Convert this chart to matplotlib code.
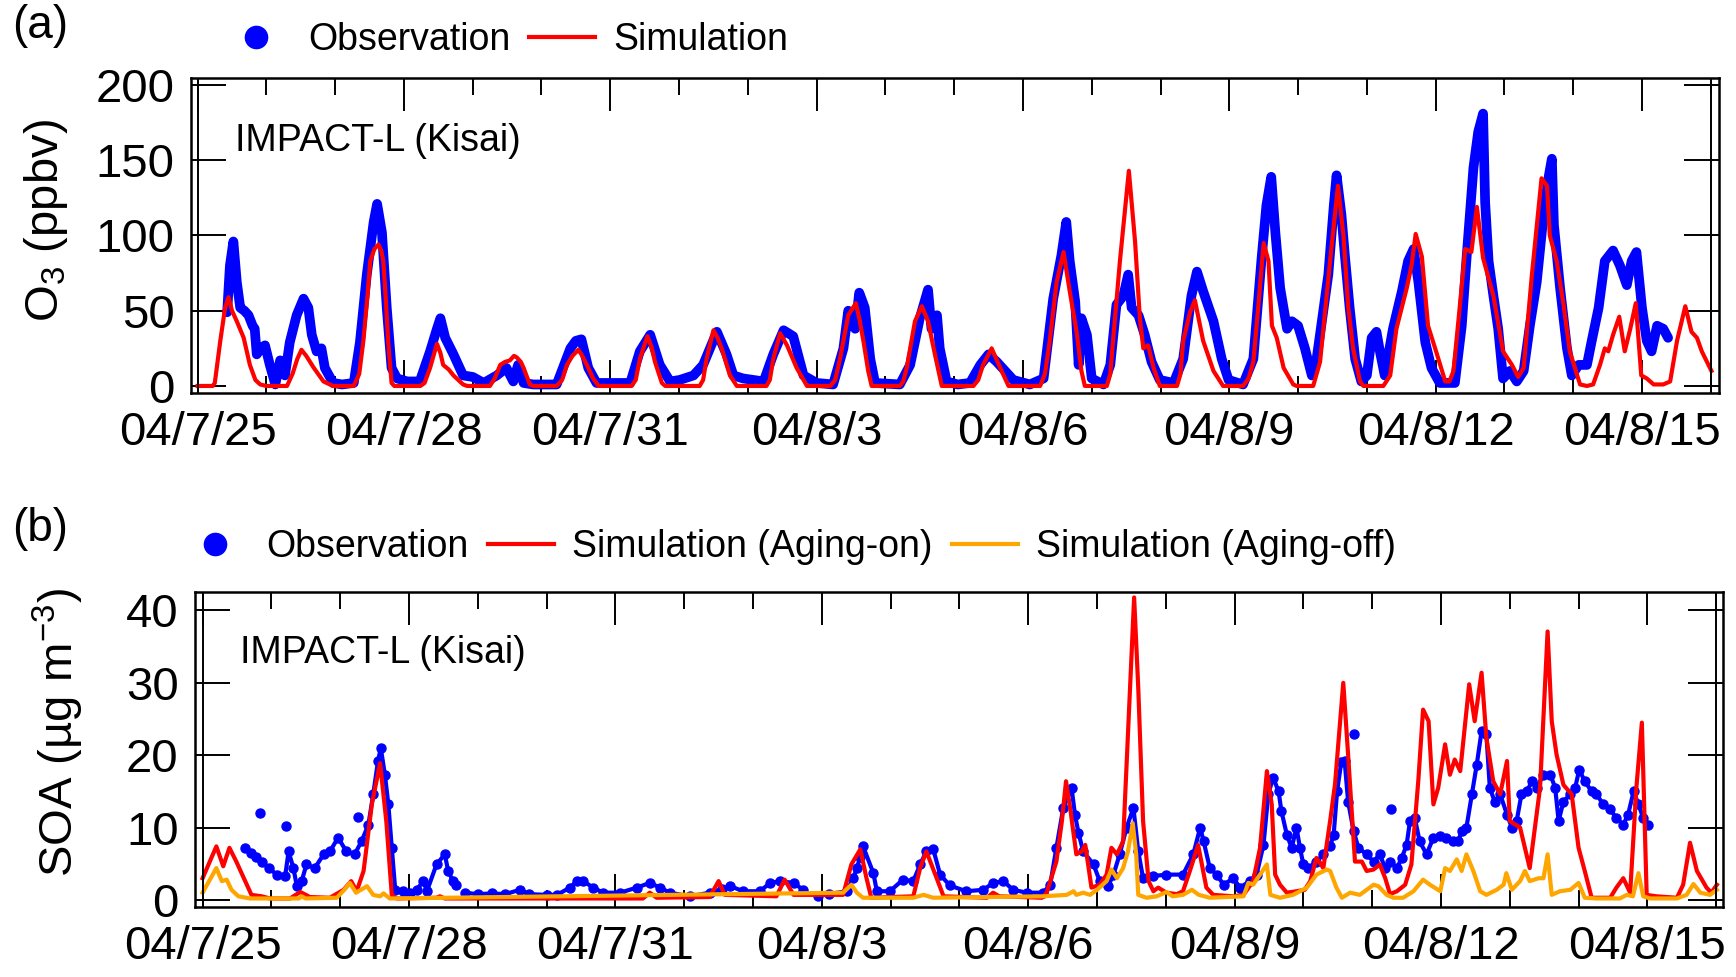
import matplotlib
matplotlib.use("Agg")
import numpy as np
import matplotlib.pyplot as plt
from matplotlib.lines import Line2D

plt.rcParams['font.family'] = ['Liberation Sans', 'DejaVu Sans']
plt.rcParams['mathtext.fontset'] = 'custom'
plt.rcParams['mathtext.rm'] = 'Liberation Sans'
plt.rcParams['mathtext.it'] = 'Liberation Sans:italic'
plt.rcParams['mathtext.default'] = 'regular'

# time is in days since 2004-07-25 00:00
date_ticks = [0, 3, 6, 9, 12, 15, 18, 21]
date_labels = ["04/7/25", "04/7/28", "04/7/31", "04/8/3",
               "04/8/6", "04/8/9", "04/8/12", "04/8/15"]

# (a) O3 observation (ppbv)
o3_obs_t = [0.43, 0.47, 0.52, 0.57, 0.62, 0.68, 0.74, 0.80, 0.83, 0.86, 0.92, 0.98,
            1.05, 1.13, 1.20, 1.27, 1.34, 1.44, 1.54, 1.61, 1.66, 1.73, 1.80, 1.85,
            1.97, 2.10, 2.27, 2.36, 2.46, 2.56, 2.61, 2.68, 2.75, 2.82, 2.90, 3.05,
            3.23, 3.38, 3.48, 3.53, 3.60, 3.72, 3.86, 4.00, 4.16, 4.35, 4.49, 4.59,
            4.66, 4.74, 4.88, 5.05, 5.22, 5.42, 5.50, 5.58, 5.68, 5.80, 6.05, 6.29,
            6.43, 6.58, 6.72, 6.87, 7.01, 7.21, 7.35, 7.55, 7.69, 7.79, 7.93, 8.23,
            8.37, 8.52, 8.66, 8.81, 9.00, 9.24, 9.39, 9.46, 9.56, 9.62, 9.70, 9.78,
            9.85, 10.21, 10.36, 10.50, 10.62, 10.67, 10.75, 10.79, 10.89, 11.05, 11.23, 11.38,
            11.50, 11.62, 11.74, 11.86, 12.10, 12.30, 12.44, 12.56, 12.63, 12.68, 12.76, 12.81,
            12.85, 12.93, 13.00, 13.17, 13.27, 13.36, 13.46, 13.53, 13.58, 13.68, 13.77, 13.87,
            13.99, 14.19, 14.33, 14.45, 14.53, 14.62, 14.77, 14.89, 14.99, 15.20, 15.35, 15.47,
            15.54, 15.61, 15.67, 15.74, 15.84, 15.91, 16.00, 16.10, 16.20, 16.27, 16.44, 16.52,
            16.56, 16.63, 16.68, 16.75, 16.83, 16.92, 17.00, 17.07, 17.14, 17.19, 17.26, 17.38,
            17.51, 17.60, 17.68, 17.75, 17.85, 17.94, 18.06, 18.28, 18.38, 18.45, 18.55, 18.62,
            18.69, 18.72, 18.77, 18.84, 18.91, 18.98, 19.08, 19.18, 19.28, 19.37, 19.47, 19.57,
            19.64, 19.69, 19.72, 19.81, 19.91, 19.98, 20.08, 20.20, 20.27, 20.37, 20.46, 20.58,
            20.68, 20.78, 20.85, 20.92, 21.00, 21.07, 21.14, 21.22, 21.31, 21.38]
o3_obs_v = [49, 80, 96, 69, 52, 50, 47, 40, 38, 21, 25, 27,
            14, 1, 17, 7, 29, 47, 58, 52, 34, 23, 25, 12,
            2, 1, 2, 29, 74, 109, 121, 102, 52, 12, 5, 3,
            3, 23, 38, 45, 32, 21, 7, 6, 2, 7, 12, 3,
            14, 2, 1, 1, 1, 25, 30, 31, 12, 2, 2, 2,
            23, 34, 14, 3, 4, 7, 14, 36, 21, 7, 5, 3,
            21, 37, 33, 7, 2, 1, 25, 50, 38, 62, 52, 18,
            2, 1, 14, 45, 64, 38, 47, 25, 3, 1, 2, 14,
            21, 16, 10, 4, 1, 5, 58, 87, 109, 83, 56, 14,
            45, 34, 5, 1, 14, 54, 60, 74, 52, 47, 34, 16,
            4, 2, 18, 60, 76, 63, 43, 18, 4, 1, 18, 85,
            120, 139, 102, 65, 38, 43, 40, 25, 7, 18, 74, 120,
            140, 114, 87, 52, 18, 3, 7, 32, 36, 23, 7, 38,
            63, 83, 91, 69, 29, 12, 2, 2, 40, 85, 145, 169,
            181, 122, 83, 60, 38, 5, 10, 3, 10, 40, 69, 114,
            138, 151, 107, 65, 25, 7, 14, 14, 30, 52, 83, 90,
            80, 67, 83, 89, 52, 30, 23, 40, 38, 32]

# (a) O3 simulation (ppbv)
o3_sim_t = [0.00, 0.22, 0.25, 0.33, 0.40, 0.45, 0.50, 0.57, 0.67, 0.76, 0.84, 0.91,
            1.00, 1.30, 1.38, 1.45, 1.51, 1.58, 1.69, 1.83, 1.97, 2.27, 2.35, 2.41,
            2.47, 2.51, 2.57, 2.63, 2.67, 2.70, 2.74, 2.77, 2.82, 2.86, 3.24, 3.30,
            3.38, 3.48, 3.53, 3.57, 3.65, 3.72, 3.86, 3.92, 4.25, 4.32, 4.40, 4.47,
            4.54, 4.60, 4.64, 4.70, 4.74, 4.83, 4.88, 5.22, 5.30, 5.37, 5.45, 5.535,
            5.58, 5.66, 5.75, 5.83, 6.31, 6.37, 6.43, 6.54, 6.60, 6.65, 6.75, 6.80,
            7.30, 7.35, 7.40, 7.50, 7.56, 7.62, 7.74, 7.84, 8.27, 8.32, 8.37, 8.47,
            8.57, 8.71, 8.86, 9.20, 9.27, 9.34, 9.46, 9.57, 9.62, 9.68, 9.75, 9.80,
            10.21, 10.26, 10.31, 10.43, 10.53, 10.62, 10.72, 10.82, 11.28, 11.35, 11.42, 11.545,
            11.67, 11.79, 12.25, 12.32, 12.39, 12.49, 12.59, 12.68, 12.78, 12.85, 12.90, 13.22,
            13.27, 13.31, 13.41, 13.54, 13.63, 13.70, 13.75, 13.82, 13.90, 13.99, 14.24, 14.29,
            14.33, 14.43, 14.50, 14.62, 14.77, 14.91, 15.20, 15.28, 15.35, 15.42, 15.50, 15.57,
            15.62, 15.69, 15.79, 15.93, 15.98, 16.22, 16.32, 16.47, 16.58, 16.66, 16.73, 16.80,
            16.90, 16.95, 17.24, 17.34, 17.43, 17.58, 17.65, 17.71, 17.80, 17.89, 18.02, 18.14,
            18.20, 18.26, 18.35, 18.43, 18.52, 18.60, 18.69, 18.84, 18.98, 19.11, 19.20, 19.28,
            19.40, 19.54, 19.62, 19.66, 19.76, 19.86, 19.95, 20.10, 20.20, 20.29, 20.39, 20.46,
            20.51, 20.58, 20.67, 20.75, 20.83, 20.91, 20.99, 21.07, 21.17, 21.31, 21.41, 21.51,
            21.63, 21.72, 21.80, 21.87, 22.01]
o3_sim_v = [0, 0, 2, 30, 52, 59, 50, 43, 32, 14, 4, 1,
            0, 0, 8, 18, 24, 20, 12, 3, 0, 0, 8, 30,
            60, 83, 91, 94, 90, 83, 55, 30, 2, 0, 0, 2,
            12, 28, 22, 14, 11, 7, 1, 0, 0, 5, 14, 16,
            17, 20, 19, 16, 12, 1, 0, 0, 4, 14, 20, 24,
            21, 14, 5, 0, 0, 4, 18, 33, 26, 16, 2, 0,
            0, 4, 18, 37, 32, 25, 7, 0, 0, 4, 18, 35,
            27, 12, 0, 0, 4, 18, 47, 55, 45, 30, 10, 0,
            0, 3, 12, 43, 53, 43, 21, 0, 0, 4, 14, 25,
            12, 0, 0, 8, 30, 69, 89, 63, 36, 10, 0, 0,
            8, 30, 83, 143, 96, 45, 25, 27, 12, 0, 0, 8,
            30, 49, 57, 30, 10, 0, 0, 5, 16, 52, 95, 83,
            40, 32, 12, 1, 0, 0, 16, 85, 133, 100, 52, 25,
            3, 0, 0, 7, 38, 65, 80, 101, 86, 40, 21, 3,
            3, 10, 52, 91, 89, 119, 85, 60, 23, 14, 6, 12,
            74, 138, 133, 100, 83, 54, 23, 1, 0, 1, 14, 25,
            23, 34, 46, 23, 38, 55, 7, 5, 1, 1, 3, 30,
            53, 36, 32, 23, 10]

# (b) SOA observation (ug m-3), nan marks a data gap
soa_obs_t = [0.62, 0.70, 0.78, 0.86, 0.96, 1.08, 1.20, 1.25, 1.32, 1.37, 1.44, 1.51,
             1.63, 1.76, 1.85, 1.97, 2.09, 2.21, 2.31, 2.41, 2.48, 2.55, 2.59, 2.65,
             2.70, 2.75, 2.80, 2.92, 3.02, 3.11, 3.21, 3.26, 3.40, 3.52, 3.57, 3.64,
             3.69, 3.75, 3.81, 4.00, 4.20, 4.40, 4.61, 4.75, 5.00, 5.15, 5.34, 5.44,
             5.53, 5.68, 5.82, 6.07, 6.31, 6.50, 6.65, 6.79, 7.08, 7.37, 7.55, 7.67,
             7.86, 8.10, 8.25, 8.39, 8.59, 8.73, 8.84, 8.95, 9.10, 9.36, 9.46, 9.51,
             9.56, 9.60, 9.75, 9.80, 9.99, 10.18, 10.33, 10.43, 10.52, 10.62, 10.72, 10.86,
             11.10, 11.35, 11.49, 11.64, 11.78, 11.98, 12.22, 12.32, 12.41, 12.51, 12.63, 12.68,
             12.73, 12.80, 12.95, 13.04, 13.16, 13.24, 13.33, 13.43, 13.53, 13.60, 13.67, 13.82,
             14.01, 14.25, 14.40, 14.50, 14.55, 14.64, 14.74, 14.84, 14.98, 15.08, 15.22, 15.32,
             15.42, 15.49, 15.56, 15.64, 15.68, 15.76, 15.83, 15.90, 15.95, 16.00, 16.07, 16.19,
             16.29, 16.39, 16.44, 16.49, 16.55, 16.60, 16.65, 16.73, 16.80, 16.92, 17.02, 17.11,
             17.19, 17.26, 17.36, 17.43, 17.50, 17.55, 17.62, 17.69, 17.79, 17.89, 17.99, 18.08,
             18.18, 18.25, 18.30, 18.37, 18.45, 18.52, 18.59, 18.66, 18.71, 18.78, 18.86, 18.96,
             19.03, 19.10, 19.17, 19.25, 19.32, 19.39, 19.49, 19.59, 19.66, 19.71, 19.78, 19.88,
             19.95, 20.01, 20.09, 20.19, 20.26, 20.36, 20.46, 20.55, 20.65, 20.72, 20.80, 20.87,
             20.94, 21.01]
soa_obs_v = [7.2, 6.5, 6.0, 5.3, 4.4, 3.5, 3.3, 6.7, 4.4, 1.9, 2.6, 4.9,
             4.4, 6.3, 6.7, 8.6, 6.7, 6.3, 8.1, 10.4, 14.6, 19.2, 21.0, 17.3,
             13.2, 7.2, 1.4, 1.2, 1.0, 1.4, 2.6, 1.2, 4.9, 6.3, 4.0, 2.6,
             2.1, np.nan, 1.0, 0.8, 0.9, 0.8, 1.4, 0.8, 0.7, 0.7, 1.7, 2.6,
             2.6, 1.7, 1.0, 1.0, 1.7, 2.35, 1.7, 1.0, 0.5, 1.0, 1.5, 1.9,
             1.2, 1.2, 2.35, 2.6, 2.35, 1.4, np.nan, 0.6, 0.8, 1.2, 3.0, 4.4,
             6.0, 7.4, 3.7, 1.2, 1.2, 2.8, 2.6, 4.9, 6.7, 7.0, 3.5, 2.0,
             1.2, 1.4, 2.35, 2.6, 1.4, 1.0, 1.0, 2.1, 7.2, 12.7, 15.5, 11.8,
             9.3, 6.7, 4.9, 2.6, 1.9, 3.5, 6.3, 10.0, 12.7, 6.7, 3.0, 3.3,
             3.5, 3.5, 6.3, 10.0, 8.1, 4.4, 3.5, 2.1, 3.0, 1.7, 2.6, 3.5,
             7.6, 14.6, 16.9, 15.0, 12.3, 9.0, 7.2, 10.0, 7.2, 4.9, 4.4, 5.3,
             6.3, 7.5, 9.0, 15.0, 19.0, 19.2, 13.6, 9.5, 7.2, 6.3, 5.3, 6.3,
             4.4, 5.3, 4.4, 5.8, 7.6, 10.9, 11.3, 8.1, 6.3, 8.6, 8.8, 8.6,
             8.1, 8.1, 9.5, 10.0, 14.6, 18.7, 23.3, 22.9, 15.5, 13.6, 14.6, 11.8,
             10.0, 10.9, 14.6, 15.0, 16.4, 15.5, 17.3, 17.3, 15.5, 10.9, 13.6, 14.6,
             15.5, 18.0, 16.4, 15.0, 14.6, 13.2, 12.5, 11.3, 10.4, 11.8, 15.0, 13.2,
             11.3, 10.4]
# isolated observation points away from the main trace
soa_out_t = [0.84, 1.21, 2.26, 16.73, 17.28]
soa_out_v = [12.0, 10.2, 11.4, 22.9, 12.5]

# (b) SOA simulation, aging on
soa_on_t = [0.00, 0.20, 0.30, 0.39, 0.49, 0.62, 0.71, 0.86, 0.98, 1.27, 1.42, 1.56,
            1.85, 2.05, 2.16, 2.24, 2.34, 2.46, 2.58, 2.67, 2.75, 2.82, 3.40, 3.45,
            3.52, 6.40, 6.50, 6.60, 7.37, 7.50, 7.59, 8.34, 8.46, 8.59, 9.31, 9.43,
            9.56, 9.65, 9.72, 10.33, 10.43, 10.52, 10.65, 10.77, 11.40, 11.49, 11.58, 12.20,
            12.27, 12.41, 12.49, 12.55, 12.61, 12.70, 12.78, 12.83, 12.92, 13.04, 13.14, 13.21,
            13.29, 13.38, 13.48, 13.54, 13.60, 13.67, 13.75, 13.82, 13.89, 14.01, 14.16, 14.25,
            14.35, 14.47, 14.59, 14.69, 14.98, 15.13, 15.27, 15.37, 15.47, 15.54, 15.59, 15.66,
            15.76, 15.90, 16.02, 16.10, 16.19, 16.29, 16.39, 16.46, 16.58, 16.65, 16.75, 16.85,
            16.92, 17.02, 17.11, 17.19, 17.26, 17.36, 17.48, 17.57, 17.67, 17.74, 17.82, 17.89,
            17.96, 18.06, 18.13, 18.20, 18.28, 18.41, 18.49, 18.59, 18.66, 18.76, 18.86, 18.96,
            19.00, 19.15, 19.29, 19.44, 19.55, 19.61, 19.68, 19.78, 19.90, 20.00, 20.09, 20.19,
            20.46, 20.55, 20.65, 20.75, 20.84, 20.92, 20.99, 21.13, 21.43, 21.52, 21.62, 21.72,
            21.86, 21.93, 22.01]
soa_on_v = [3.0, 7.4, 4.65, 7.2, 5.3, 2.6, 0.7, 0.5, 0.2, 0.2, 1.1, 0.4,
            0.3, 1.4, 2.6, 1.2, 4.0, 13.2, 18.9, 10.9, 0.7, 0.2, 0.3, 0.5,
            0.2, 0.2, 1.0, 0.3, 0.4, 2.6, 0.7, 0.5, 2.8, 0.7, 0.7, 4.9,
            7.0, 3.0, 0.3, 0.5, 4.4, 6.7, 3.5, 0.5, 0.3, 1.0, 0.5, 0.3,
            1.0, 5.3, 10.9, 16.4, 12.7, 6.3, 6.7, 7.6, 1.7, 2.1, 3.5, 7.2,
            6.3, 8.1, 29.3, 41.8, 29.3, 10.9, 2.6, 1.2, 1.7, 1.0, 0.8, 1.2,
            4.0, 7.6, 1.7, 0.7, 0.5, 0.7, 2.6, 7.2, 17.8, 13.2, 3.5, 2.1,
            1.0, 1.2, 1.4, 2.6, 5.8, 4.4, 11.0, 16.0, 30.0, 20.1, 5.3, 5.3,
            4.0, 4.2, 4.9, 3.0, 0.8, 1.2, 2.1, 4.9, 16.4, 26.3, 24.7, 13.2,
            15.5, 21.5, 17.3, 19.4, 17.8, 29.8, 24.7, 31.4, 22.4, 16.4, 14.6, 19.2,
            10.9, 10.0, 4.4, 15.5, 37.1, 24.7, 20.1, 15.9, 14.6, 7.2, 4.0, 0.3,
            0.3, 1.7, 3.0, 1.0, 15.5, 24.5, 0.7, 0.5, 0.3, 2.1, 7.9, 4.0,
            1.7, 1.0, 2.1]

# (b) SOA simulation, aging off
soa_off_t = [0.00, 0.20, 0.28, 0.35, 0.42, 0.52, 0.69, 1.40, 1.44, 1.50, 1.95, 2.06,
             2.14, 2.23, 2.39, 2.48, 2.58, 2.63, 2.72, 9.31, 9.43, 9.51, 9.60, 10.33,
             10.48, 10.62, 12.22, 12.56, 12.66, 12.70, 12.80, 12.90, 13.00, 13.14, 13.21, 13.29,
             13.38, 13.45, 13.52, 13.57, 13.60, 13.72, 13.87, 14.01, 14.10, 14.25, 14.38, 14.48,
             14.64, 15.13, 15.20, 15.27, 15.37, 15.47, 15.52, 15.66, 15.85, 16.05, 16.19, 16.34,
             16.39, 16.48, 16.56, 16.68, 16.82, 17.02, 17.09, 17.21, 17.31, 17.45, 17.60, 17.74,
             17.84, 17.99, 18.06, 18.13, 18.23, 18.30, 18.37, 18.47, 18.57, 18.66, 18.81, 18.91,
             18.95, 19.03, 19.15, 19.22, 19.29, 19.42, 19.49, 19.55, 19.61, 19.73, 19.88, 20.00,
             20.09, 20.26, 20.60, 20.70, 20.79, 20.87, 20.94, 21.04, 21.43, 21.57, 21.67, 21.77,
             21.91, 22.01]
soa_off_v = [1.0, 4.4, 2.6, 2.8, 1.4, 0.5, 0.2, 0.2, 0.5, 0.2, 0.3, 1.4,
             2.35, 1.0, 1.9, 0.7, 0.5, 0.9, 0.2, 1.0, 2.1, 1.0, 0.3, 0.3,
             0.7, 0.3, 0.5, 0.7, 1.2, 0.7, 1.0, 0.7, 1.4, 2.6, 4.2, 3.0,
             4.4, 6.7, 10.6, 6.3, 0.7, 0.3, 0.5, 1.1, 0.5, 0.7, 1.4, 0.7,
             0.3, 0.5, 2.35, 2.1, 3.5, 4.9, 0.7, 0.3, 0.7, 1.7, 3.5, 4.2,
             4.0, 1.7, 0.3, 1.0, 0.7, 2.1, 1.9, 0.7, 0.3, 0.3, 1.2, 2.8,
             2.1, 1.2, 4.4, 4.0, 5.6, 4.0, 6.3, 4.0, 1.2, 0.7, 1.4, 2.1,
             3.7, 1.4, 2.6, 4.0, 2.6, 3.0, 3.0, 6.3, 0.7, 1.2, 1.4, 2.35,
             0.3, 0.2, 0.2, 0.7, 0.5, 3.7, 0.5, 0.2, 0.2, 0.7, 2.2, 1.0,
             0.7, 1.4]

BLUE = '#0000ff'
RED = '#ff0000'
ORANGE = '#ffa500'

fig = plt.figure(figsize=(17.36, 9.77), dpi=100)
ax1 = fig.add_axes([0.1103, 0.5981, 0.8797, 0.3218])
ax2 = fig.add_axes([0.1125, 0.0720, 0.8800, 0.3224])

# panel (a)
ax1.plot(o3_obs_t, o3_obs_v, color=BLUE, lw=7, solid_joinstyle='round',
         solid_capstyle='round', zorder=2)
ax1.plot(o3_sim_t, o3_sim_v, color=RED, lw=3, zorder=3)
ax1.set_xlim(-0.089, 22.115)
ax1.set_ylim(-4.45, 204.5)
ax1.set_yticks([0, 50, 100, 150, 200])

# panel (b)
ax2.plot(soa_obs_t, soa_obs_v, '-o', color=BLUE, lw=3, ms=6.5, zorder=2)
ax2.plot(soa_out_t, soa_out_v, 'o', color=BLUE, ms=6.5, zorder=2)
ax2.plot(soa_on_t, soa_on_v, color=RED, lw=3, zorder=3)
ax2.plot(soa_off_t, soa_off_v, color=ORANGE, lw=3, zorder=4)
ax2.set_xlim(-0.106, 22.099)
ax2.set_ylim(-0.93, 42.6)
ax2.set_yticks([0, 10, 20, 30, 40])

for ax in (ax1, ax2):
    ax.axvline(0, color='k', lw=1.4, zorder=5)
    ax.axvline(22, color='k', lw=1.4, zorder=5)
    ax.set_xticks(date_ticks)
    ax.set_xticklabels(date_labels)
    ax.set_xticks(range(0, 23), minor=True)
    ax.tick_params(which='both', direction='in', top=True, right=True,
                   labelsize=34, width=1.4, pad=13)
    ax.tick_params(axis='x', which='major', length=24)
    ax.tick_params(axis='x', which='minor', length=12)
    ax.tick_params(axis='y', which='major', length=25, pad=12)
    for s in ax.spines.values():
        s.set_linewidth(1.8)

ax1.text(0.0285, 0.80, "IMPACT-L (Kisai)", transform=ax1.transAxes,
         fontsize=27, va='center', ha='left')
ax2.text(0.0293, 0.805, "IMPACT-L (Kisai)", transform=ax2.transAxes,
         fontsize=27, va='center', ha='left')

W, H = 1736.0, 977.0
fig.text(12 / W, 1 - 26 / H, "(a)", fontsize=33, ha='left', va='center')
fig.text(12 / W, 1 - 529 / H, "(b)", fontsize=33, ha='left', va='center')
fig.text(46 / W, 1 - 221 / H, "O$_3$ (ppbv)", fontsize=34, rotation=90,
         ha='center', va='center')
fig.text(58 / W, 1 - 733 / H, "SOA (µg m$^{-3}$)", fontsize=34, rotation=90,
         ha='center', va='center')

dot = Line2D([], [], ls='none', marker='o', ms=16, color=BLUE)
red_line = Line2D([], [], color=RED, lw=3)
orange_line = Line2D([], [], color=ORANGE, lw=3)

leg_kw = dict(loc='center left', frameon=False, fontsize=27, handlelength=1.76,
              handletextpad=0.5, columnspacing=0.5, borderpad=0, borderaxespad=0)
fig.legend([dot, red_line], ["Observation", "Simulation"], ncol=2,
           bbox_to_anchor=(223 / W, 1 - 40 / H), **leg_kw)
fig.legend([dot, red_line, orange_line],
           ["Observation", "Simulation (Aging-on)", "Simulation (Aging-off)"],
           ncol=3, bbox_to_anchor=(182 / W, 1 - 547 / H), **leg_kw)

fig.savefig("out.png", dpi=100)
